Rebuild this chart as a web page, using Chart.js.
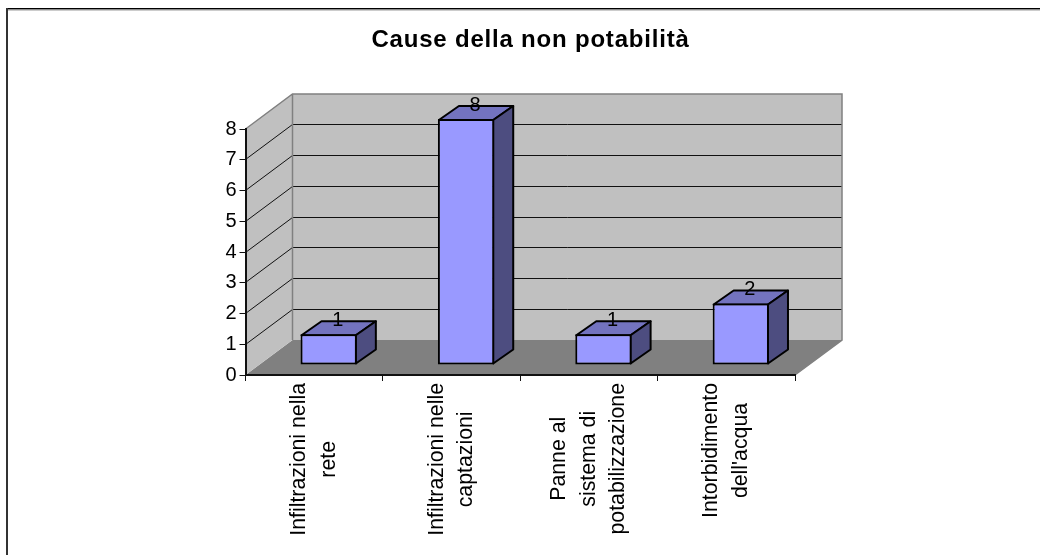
<!DOCTYPE html>
<html lang="it">
<head>
<meta charset="utf-8">
<title>Cause della non potabilità</title>
<style>
  html, body { margin: 0; padding: 0; background: #fff; }
  canvas { display: block; }
</style>
<script src="https://cdn.jsdelivr.net/npm/chart.js@4"></script>
</head>
<body>
<canvas id="chart" width="1040" height="555"></canvas>
<script>
const chartTitle = "Cause della non potabilità";
const categories = [
  ["Infiltrazioni nella", "rete"],
  ["Infiltrazioni nelle", "captazioni"],
  ["Panne al", "sistema di", "potabilizzazione"],
  ["Intorbidimento", "dell'acqua"]
];
const values = [1, 8, 1, 2];
const axisMax = 8;

const FONT = "'Liberation Sans', Arial, sans-serif";
const WALL = "#C0C0C0", FLOOR = "#808080", EDGE = "#808080";
const BAR_FRONT = "#9999FF", BAR_TOP = "#7373BF", BAR_SIDE = "#4D4D80";

// Oblique projection of the box: the room depth and where the bars sit inside it.
const ROOM_DX = 47, ROOM_DY = 35;
const BAR_SHIFT_X = 14.5, BAR_SHIFT_Y = 10;
const BAR_DX = 20, BAR_DY = 14;

function poly(ctx, pts, fill, stroke, lw) {
  ctx.beginPath();
  pts.forEach((p, i) => i ? ctx.lineTo(p[0], p[1]) : ctx.moveTo(p[0], p[1]));
  ctx.closePath();
  if (fill) { ctx.fillStyle = fill; ctx.fill(); }
  if (stroke) { ctx.strokeStyle = stroke; ctx.lineWidth = lw; ctx.lineJoin = "round"; ctx.stroke(); }
}

const box3d = {
  id: "box3d",
  afterLayout(chart) {
    // Title sits in the upper band, centred slightly right of the canvas middle,
    // and is set with a little extra tracking.
    const t = chart.titleBlock;
    t.left = 0; t.right = 1061; t.top = 26.3; t.bottom = t.top + t.height;
    if (!t.trackedDraw) {
      const plainDraw = t.draw;
      t.draw = function () {
        chart.ctx.save();
        chart.ctx.letterSpacing = "0.8px";
        plainDraw.call(t);
        chart.ctx.restore();
      };
      t.trackedDraw = true;
    }
  },
  beforeDraw(chart) {
    const { ctx, chartArea: a, scales: { y } } = chart;
    const L = a.left, R = a.right, T = a.top, B = a.bottom;
    ctx.save();
    // Outer frame: top and left only.
    ctx.fillStyle = "#000"; ctx.fillRect(6, 8, 1034, 1.5);
    ctx.fillStyle = "#999"; ctx.fillRect(8, 9.5, 1032, 1);
    ctx.fillStyle = "#333"; ctx.fillRect(6, 8, 2, 547);

    // Floor, back wall, side wall.
    poly(ctx, [[L, B], [R, B], [R + ROOM_DX, B - ROOM_DY], [L + ROOM_DX, B - ROOM_DY]], FLOOR);
    poly(ctx, [[L + ROOM_DX, T - ROOM_DY], [R + ROOM_DX, T - ROOM_DY], [R + ROOM_DX, B - ROOM_DY], [L + ROOM_DX, B - ROOM_DY]], WALL);
    poly(ctx, [[L, B], [L + ROOM_DX, B - ROOM_DY], [L + ROOM_DX, T - ROOM_DY], [L, T]], WALL);

    // Gridlines run along the side wall and across the back wall.
    ctx.strokeStyle = "#111"; ctx.lineWidth = 1;
    y.ticks.forEach(tk => {
      if (tk.value === 0 || tk.value === axisMax) return;
      const py = Math.floor(y.getPixelForValue(tk.value)) + 0.5;
      ctx.beginPath();
      ctx.moveTo(L, py);
      ctx.lineTo(L + ROOM_DX, py - ROOM_DY);
      ctx.lineTo(R + ROOM_DX, py - ROOM_DY);
      ctx.stroke();
    });

    // Grey edges of the room.
    ctx.strokeStyle = EDGE; ctx.lineWidth = 1.5;
    ctx.beginPath();
    ctx.moveTo(L, T);
    ctx.lineTo(L + ROOM_DX, T - ROOM_DY);
    ctx.lineTo(R + ROOM_DX, T - ROOM_DY);
    ctx.lineTo(R + ROOM_DX, B - ROOM_DY);
    ctx.lineTo(R, B);
    ctx.moveTo(L + ROOM_DX, T - ROOM_DY);
    ctx.lineTo(L + ROOM_DX, B - ROOM_DY);
    ctx.stroke();
    ctx.restore();
  },
  beforeDatasetDraw(chart, args) {
    const ctx = chart.ctx;
    ctx.save();
    ctx.translate(BAR_SHIFT_X, -BAR_SHIFT_Y);
    // Top and side faces behind each front face.
    args.meta.data.forEach(el => {
      const l = el.x - el.width / 2 + 1, r = el.x + el.width / 2 - 1;
      const t = el.y + 1, b = el.base - 1;
      poly(ctx, [[l, t], [l + BAR_DX, t - BAR_DY], [r + BAR_DX, t - BAR_DY], [r, t]], BAR_TOP, "#000", 2);
      poly(ctx, [[r, t], [r + BAR_DX, t - BAR_DY], [r + BAR_DX, b - BAR_DY], [r, b]], BAR_SIDE, "#000", 2);
    });
  },
  afterDatasetDraw(chart) {
    chart.ctx.restore();
  },
  afterDraw(chart) {
    const { ctx, scales: { x } } = chart;
    ctx.save();
    ctx.fillStyle = "#000";
    ctx.textBaseline = "middle";
    ctx.textAlign = "center";

    // Value labels straddle the top face of each bar.
    ctx.font = "20px " + FONT;
    chart.getDatasetMeta(0).data.forEach((el, i) => {
      ctx.fillText(String(values[i]), el.x + BAR_SHIFT_X + 9, el.y - BAR_SHIFT_Y - 14);
    });

    // Vertical category labels: centred lines, block hanging below the axis.
    ctx.font = "21.3px " + FONT;
    const lineGap = 29.5, topY = chart.chartArea.bottom + 8;
    x.ticks.forEach((tk, i) => {
      const lines = [].concat(tk.label);
      const longest = Math.max(...lines.map(s => ctx.measureText(s).width));
      const cx = x.getPixelForTick(i);
      ctx.save();
      ctx.translate(cx, topY + longest / 2);
      ctx.rotate(-Math.PI / 2);
      lines.forEach((s, j) => {
        ctx.fillText(s, 0, (j - (lines.length - 1) / 2) * lineGap);
      });
      ctx.restore();
    });
    ctx.restore();
  }
};

new Chart(document.getElementById("chart"), {
  type: "bar",
  data: {
    labels: categories,
    datasets: [{
      data: values,
      backgroundColor: BAR_FRONT,
      borderColor: "#000",
      borderWidth: 2,
      borderSkipped: false,
      barPercentage: 0.41,
      categoryPercentage: 1,
      clip: false
    }]
  },
  plugins: [box3d],
  options: {
    responsive: false,
    animation: false,
    layout: { padding: { left: 185.5, right: 245, top: 100.2, bottom: 160 } },
    plugins: {
      legend: { display: false },
      tooltip: { enabled: false },
      title: {
        display: true,
        text: chartTitle,
        color: "#000",
        padding: 0,
        font: { family: FONT, size: 24, weight: "bold", lineHeight: 1.2 }
      }
    },
    scales: {
      x: {
        offset: true,
        afterFit(s) { s.height = 20; },
        border: { color: "#111", width: 2 },
        grid: { drawOnChartArea: false, drawTicks: true, tickLength: 6, color: "#111", offset: true },
        ticks: { display: false, autoSkip: false }
      },
      y: {
        min: 0,
        max: axisMax,
        afterFit(s) { s.width = 60; },
        border: { color: "#111", width: 2 },
        grid: { drawOnChartArea: false, drawTicks: true, tickLength: 6, color: "#111" },
        ticks: { stepSize: 1, color: "#000", padding: 3, font: { family: FONT, size: 20 } }
      }
    }
  }
});
</script>
</body>
</html>
